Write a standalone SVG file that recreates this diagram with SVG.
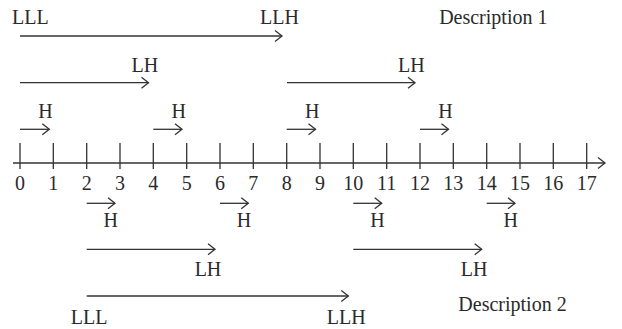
<svg xmlns="http://www.w3.org/2000/svg" width="622" height="329" viewBox="0 0 622 329">
<style>
text{font-family:"Liberation Serif","Times New Roman",serif;font-size:20px;fill:#2a2a2a;text-anchor:middle}
.ln{stroke:#333;stroke-width:1.3;fill:none}
.ar{stroke:#333;stroke-width:1.3;fill:none;marker-end:url(#ah)}
</style>
<defs>
<marker id="ah" markerUnits="userSpaceOnUse" markerWidth="12" markerHeight="14" viewBox="-9 -7 12 14" refX="0" refY="0" orient="auto">
<path d="M-7,-5.5 L0,0 L-7,5.5" fill="none" stroke="#333" stroke-width="1.3"/>
</marker>
</defs>
<g id="axis">
<line class="ar" x1="13" y1="163" x2="605" y2="163"/>
<g class="ln">
<path d="M20,143V169M53.3,143V169M86.7,143V169M120,143V169M153.3,143V169M186.7,143V169M220,143V169M253.3,143V169M286.7,143V169M320,143V169M353.3,143V169M386.7,143V169M420,143V169M453.3,143V169M486.7,143V169M520,143V169M553.3,143V169M586.7,143V169"/>
</g>
<g id="ticklabels">
<text x="20" y="190">0</text><text x="53.3" y="190">1</text><text x="86.7" y="190">2</text><text x="120" y="190">3</text><text x="153.3" y="190">4</text><text x="186.7" y="190">5</text><text x="220" y="190">6</text><text x="253.3" y="190">7</text><text x="286.7" y="190">8</text><text x="320" y="190">9</text><text x="353.3" y="190">10</text><text x="386.7" y="190">11</text><text x="420" y="190">12</text><text x="453.3" y="190">13</text><text x="486.7" y="190">14</text><text x="520" y="190">15</text><text x="553.3" y="190">16</text><text x="586.7" y="190">17</text>
</g>
</g>
<g id="connectors">
<line class="ar" x1="20" y1="36" x2="282" y2="36"/>
<line class="ar" x1="20" y1="82.7" x2="148.5" y2="82.7"/>
<line class="ar" x1="287" y1="82.7" x2="415" y2="82.7"/>
<line class="ar" x1="20" y1="129.3" x2="49.3" y2="129.3"/>
<line class="ar" x1="153.3" y1="129.3" x2="182" y2="129.3"/>
<line class="ar" x1="286.7" y1="129.3" x2="315.5" y2="129.3"/>
<line class="ar" x1="420" y1="129.3" x2="448.5" y2="129.3"/>
<line class="ar" x1="86.7" y1="203.3" x2="115" y2="203.3"/>
<line class="ar" x1="220" y1="203.3" x2="248.3" y2="203.3"/>
<line class="ar" x1="353.3" y1="203.3" x2="381.7" y2="203.3"/>
<line class="ar" x1="486.7" y1="203.3" x2="515" y2="203.3"/>
<line class="ar" x1="86.7" y1="249.3" x2="215" y2="249.3"/>
<line class="ar" x1="353.3" y1="249.3" x2="481.7" y2="249.3"/>
<line class="ar" x1="86.7" y1="296" x2="348.3" y2="296"/>
</g>
<g id="desc1">
<text x="30.3" y="23.5">LLL</text>
<text x="279.5" y="23.5">LLH</text>
<text x="493.3" y="24">Description 1</text>
<text x="144.8" y="71.7">LH</text>
<text x="411.3" y="71.7">LH</text>
<text x="45.5" y="117.7">H</text>
<text x="178.8" y="117.7">H</text>
<text x="312.2" y="117.7">H</text>
<text x="445.5" y="117.7">H</text>
</g>
<g id="desc2">
<text x="110.8" y="227.3">H</text>
<text x="244.1" y="227.3">H</text>
<text x="377.4" y="227.3">H</text>
<text x="510.8" y="227.3">H</text>
<text x="208" y="276">LH</text>
<text x="474.2" y="276">LH</text>
<text x="89.2" y="324">LLL</text>
<text x="346.3" y="324">LLH</text>
<text x="512.5" y="310.7">Description 2</text>
</g>
</svg>
